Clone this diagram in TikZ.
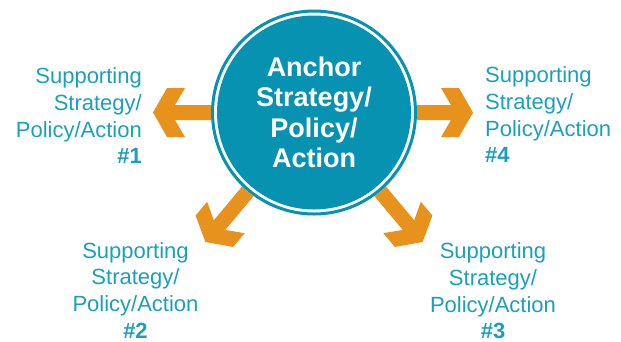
\documentclass[tikz,border=0pt]{standalone}
\usepackage{fontspec}
\setmainfont{Liberation Sans}
\definecolor{tealfill}{HTML}{0892B2}
\definecolor{labelteal}{HTML}{1B9FBD}
\definecolor{arroworange}{HTML}{E8921E}
\begin{document}
\begin{tikzpicture}[x=1pt,y=1pt,
  lbl/.style={text=labelteal, font=\fontsize{22}{26.6}\selectfont, inner sep=0pt},
  arrowshape/.style={fill=arroworange, draw=none}]
\useasboundingbox (0,0) rectangle (621,-341);
\coordinate (c) at (314,-112.5);
% arrows (drawn behind the circle)
\foreach \ang/\len in {180/161, 0/159, 230/169, -50/169} {
  \fill[arrowshape, shift={(c)}, rotate=\ang]
    (\len,0) -- (\len-14,24.5) -- (\len-32,24.5) -- (\len-22,7.5) -- (0,7.5)
    -- (0,-7.5) -- (\len-22,-7.5) -- (\len-32,-24.5) -- (\len-14,-24.5) -- cycle;
}
% anchor circle
\fill[white] (c) circle[radius=103];
\draw[tealfill, line width=3pt] (c) circle[radius=101.5];
\node[circle, fill=tealfill, minimum size=194pt, inner sep=0pt, text=white,
      font=\bfseries\fontsize{27}{30.5}\selectfont, align=center] (anchor) at (c)
      {Anchor\\Strategy/\\Policy/\\Action};
% labels
\node[lbl, align=right, anchor=north east] (s1) at (142,-67.7)
  {Supporting\\Strategy/\\Policy/Action\\\textbf{\#1}};
\node[lbl, align=left, anchor=north west] (s4) at (485,-66.7)
  {Supporting\\Strategy/\\Policy/Action\\\textbf{\#4}};
\node[lbl, align=center, anchor=north] (s2) at (135.5,-242.2)
  {Supporting\\Strategy/\\Policy/Action\\\textbf{\#2}};
\node[lbl, align=center, anchor=north] (s3) at (493,-242.7)
  {Supporting\\Strategy/\\Policy/Action\\\textbf{\#3}};
\end{tikzpicture}
\end{document}
